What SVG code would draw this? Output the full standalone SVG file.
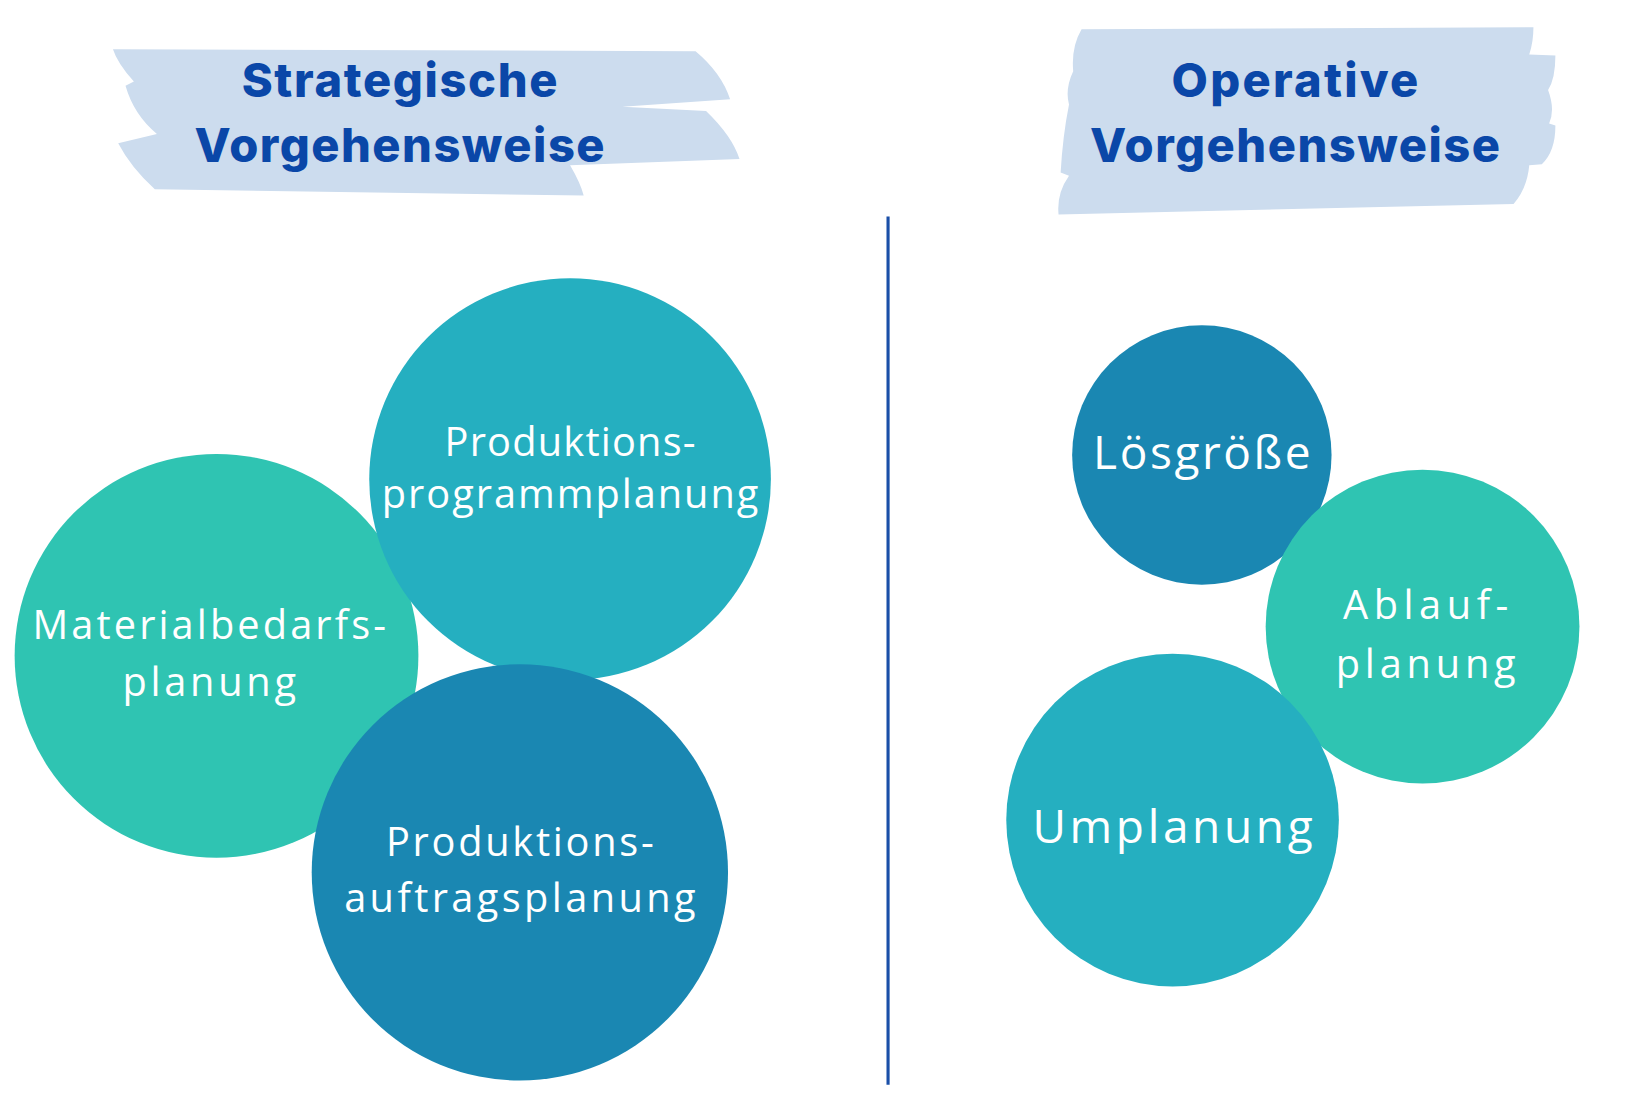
<svg xmlns="http://www.w3.org/2000/svg" width="1636" height="1119" viewBox="0 0 1636 1119">
<style>
.ban{fill:#ccdcee}
.t{font-family:Inter,"Open Sans",sans-serif;font-weight:800;font-size:45px;fill:#0a47a8;text-anchor:middle}
.c{font-family:"Open Sans",Lato,sans-serif;font-size:38px;fill:#fff;text-anchor:middle}
.c2{font-size:44px}
.g{fill:#2fc4b2}.b{fill:#25afc0}.d{fill:#1a87b2}
</style>
<rect width="1636" height="1119" fill="#fff"/>
<g transform="scale(1.046)">
<g id="title-left">
<path class="ban" d="M108 47 L665 49 Q690 70 698 95 L595 102 L675 106 Q700 130 707 152 L545 158 Q555 175 558 187 L148 181 Q125 160 113 137 L150 128 Q128 110 120 82 L128 78 Q112 60 108 47 Z"/>
<text class="t" x="382" y="93" textLength="302" lengthAdjust="spacing">Strategische</text>
<text class="t" x="382" y="155" textLength="392" lengthAdjust="spacing">Vorgehensweise</text>
</g>
<g id="title-right">
<path class="ban" d="M1034 28 L1466 26 Q1466 40 1462 52 L1487 53 Q1487 75 1480 86 Q1487 105 1481 118 L1487 120 Q1487 145 1474 157 L1462 158 Q1460 180 1447 195 L1012 205 Q1010 185 1022 168 L1014 165 Q1016 130 1022 100 Q1018 85 1026 68 Q1024 45 1034 28 Z"/>
<text class="t" x="1238" y="93" textLength="236" lengthAdjust="spacing">Operative</text>
<text class="t" x="1238" y="155" textLength="392" lengthAdjust="spacing">Vorgehensweise</text>
</g>
<g id="divider"><line x1="849" y1="207" x2="849" y2="1037" stroke="#1a4fa8" stroke-width="3"/></g>
<g id="n-material"><circle class="g" cx="207" cy="627" r="193"/><text class="c" x="200" y="611" textLength="338" lengthAdjust="spacing">Materialbedarfs-</text><text class="c" x="200" y="665" textLength="166" lengthAdjust="spacing">planung</text></g>
<g id="n-programm"><circle class="b" cx="545" cy="458" r="192"/><text class="c" x="545" y="436" textLength="240" lengthAdjust="spacing">Produktions-</text><text class="c" x="545" y="486" textLength="360" lengthAdjust="spacing">programmplanung</text></g>
<g id="n-auftrag"><circle class="d" cx="497" cy="834" r="199"/><text class="c" x="497" y="818" textLength="256" lengthAdjust="spacing">Produktions-</text><text class="c" x="497" y="872" textLength="336" lengthAdjust="spacing">auftragsplanung</text></g>
<g id="n-losgroesse"><circle class="d" cx="1149" cy="435" r="124"/><text class="c c2" x="1149" y="448" textLength="208" lengthAdjust="spacing">Lösgröße</text></g>
<g id="n-ablauf"><circle class="g" cx="1360" cy="599" r="150"/><text class="c" x="1363" y="592" textLength="158" lengthAdjust="spacing">Ablauf-</text><text class="c" x="1363" y="648" textLength="172" lengthAdjust="spacing">planung</text></g>
<g id="n-umplanung"><circle class="b" cx="1121" cy="784" r="159"/><text class="c c2" x="1121" y="806" textLength="268" lengthAdjust="spacing">Umplanung</text></g>
<g id="connectors"/>
</g>
</svg>
